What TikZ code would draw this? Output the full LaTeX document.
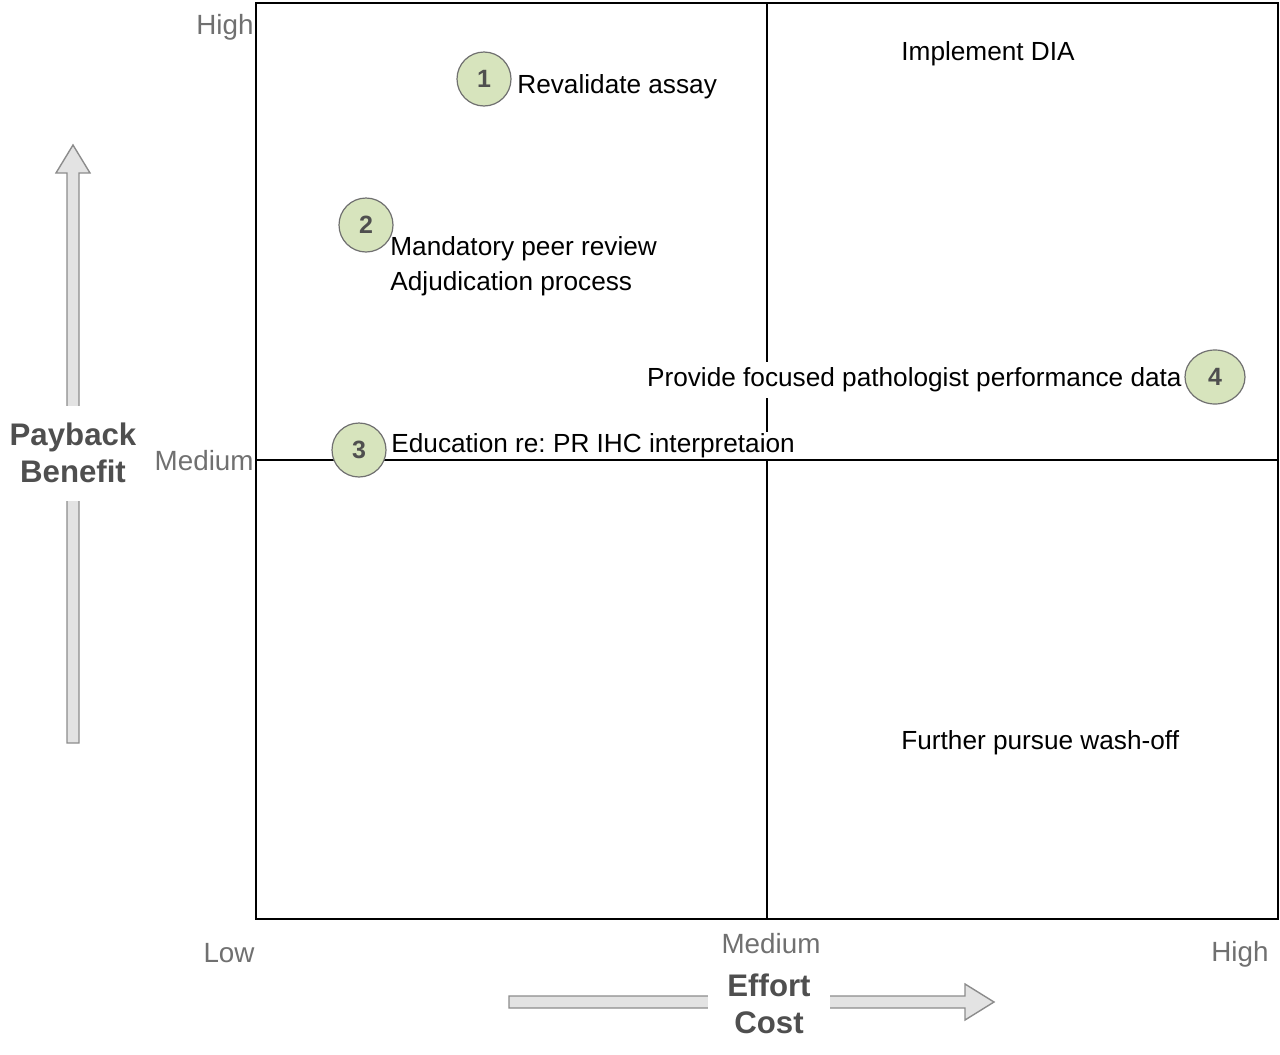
\documentclass[tikz,border=0pt]{standalone}
\usepackage{fontspec}
\setmainfont{Liberation Sans}
\usepackage{tikz}
\usetikzlibrary{positioning,shapes.geometric}
\usepackage{xcolor}
\frenchspacing

\definecolor{axisgray}{HTML}{707070}
\definecolor{titlegray}{HTML}{4F4F4F}
\definecolor{arrowfill}{HTML}{E3E3E3}
\definecolor{arrowline}{HTML}{8C8C8C}
\definecolor{dotgreen}{HTML}{D7E4BD}

\tikzset{
  item/.style={anchor=west,inner sep=0pt,text=black,font=\fontsize{13.1}{17.6}\selectfont},
  level/.style={inner sep=0pt,text=axisgray,font=\fontsize{13.9}{16}\selectfont},
  axistitle/.style={fill=white,inner sep=1pt,align=center,text=titlegray,
    font=\bfseries\fontsize{15.6}{18.5}\selectfont},
  dot/.style={circle,draw=axisgray,line width=0.6pt,fill=dotgreen,minimum size=27pt,inner sep=0pt,
    text=titlegray,font=\bfseries\fontsize{12.5}{14}\selectfont},
  bigarrow/.style={draw=arrowline,fill=arrowfill,line width=0.7pt}
}

\begin{document}
\begin{tikzpicture}[x=0.5pt,y=-0.5pt]
  \useasboundingbox (0,0) rectangle (1280,1055);

  % grid
  \draw[line width=1pt] (256,3) rectangle (1278,919);
  \coordinate (vtop) at (767,3);
  \coordinate (vbot) at (767,919);
  \coordinate (hleft) at (256,460);
  \coordinate (hright) at (1278,460);
  \draw[line width=1pt] (vtop) -- (vbot);

  % level labels
  \node[level,anchor=east] (yhigh) at (254,27) {High};
  \node[level,anchor=east] (ymed) at (254,461) {Medium};
  \node[level] (xlow) at (229,953) {Low};
  \node[level] (xmed) at (771,944) {Medium};
  \node[level] (xhigh) at (1240,954) {High};

  % axis arrows
  \draw[bigarrow] (67,743) -- (67,173) -- (56,173) -- (73,145) -- (90,173)
    -- (79,173) -- (79,743) -- cycle;
  \node[axistitle,minimum height=47.5pt] (benefit) at (73,453) {Payback\\Benefit};
  \draw[bigarrow] (509,996) -- (965,996) -- (965,984) -- (994,1002) -- (965,1020)
    -- (965,1008) -- (509,1008) -- cycle;
  \node[axistitle,inner xsep=9.5pt] (cost) at (769,1004) {Effort\\Cost};

  % actions
  \node[item,fill=white,inner xsep=1pt,inner ysep=1pt] (educ) at (389,446) {Education re: PR IHC interpretaion};
  \node[item,fill=white,inner ysep=3pt,inner xsep=1pt,anchor=east] (perf) at (1184,380)
    {Provide focused pathologist performance data};
  \draw[line width=1pt] (hleft) -- (hright);
  \node[dot] (d1) at (484,79) {1};
  \node[item] (revalidate) at (517,87) {Revalidate assay};
  \node[dot] (d2) at (366,225) {2};
  \node[item,align=left] (peer) at (390,266) {Mandatory peer review\\Adjudication process};
  \node[dot] (d3) at (359,450) {3};
  \node[dot,ellipse,minimum width=30pt,minimum height=27pt] (d4) at (1215,377) {4};
  \node[item] (dia) at (901,54) {Implement DIA};
  \node[item] (wash) at (901,743) {Further pursue wash-off};
\end{tikzpicture}
\end{document}
